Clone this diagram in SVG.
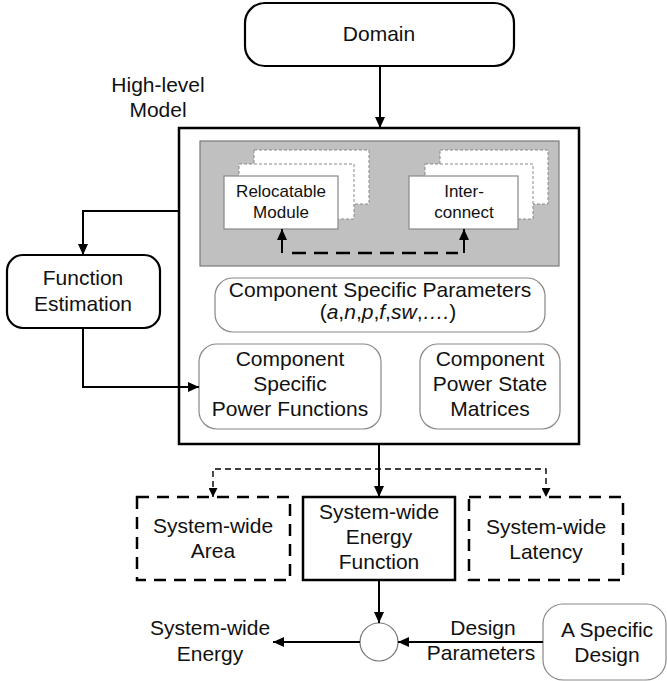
<svg xmlns="http://www.w3.org/2000/svg" width="667" height="681" viewBox="0 0 667 681">
  <style>
    text { font-family: "Liberation Sans", Arial, sans-serif; font-size: 21px; fill: #111; text-anchor: middle; }
    .small { font-size: 17px; }
    .bold-box { fill: #fff; stroke: #000; stroke-width: 2.2; }
    .soft-box { fill: #fff; stroke: #888; stroke-width: 1.2; }
    .dash-box { fill: #fff; stroke: #000; stroke-width: 2.5; stroke-dasharray: 12 8; }
    .stack { fill: #fff; stroke: #888; stroke-width: 1; stroke-dasharray: 3 2; }
    .wire { fill: none; stroke: #000; stroke-width: 2; }
    .wire-dash { fill: none; stroke: #000; stroke-width: 2.5; stroke-dasharray: 14 8; }
    .wire-thin { fill: none; stroke: #000; stroke-width: 1.4; stroke-dasharray: 6 4; }
  </style>
  <defs>
    <marker id="arrow" markerUnits="userSpaceOnUse" markerWidth="12" markerHeight="10" refX="11" refY="5" orient="auto-start-reverse">
      <path d="M0,0 L11,5 L0,10 z" fill="#000"/>
    </marker>
    <marker id="arrow-sm" markerUnits="userSpaceOnUse" markerWidth="10" markerHeight="9" refX="9" refY="4.5" orient="auto-start-reverse">
      <path d="M0,0 L9,4.5 L0,9 z" fill="#000"/>
    </marker>
  </defs>

  <!-- Domain -->
  <g id="domain">
    <rect class="bold-box" x="245" y="3" width="269" height="63" rx="20"/>
    <text x="379" y="41">Domain</text>
  </g>

  <!-- label above the model container -->
  <g id="high-level-label">
    <text x="158" y="92">High-level</text>
    <text x="158" y="117">Model</text>
  </g>

  <!-- High-level model container -->
  <g id="high-level-model">
    <rect x="179" y="128" width="400" height="316" fill="#fff" stroke="#000" stroke-width="2.5"/>
    <rect x="200" y="141" width="359" height="125" fill="#c0c0c0" stroke="#7a7a7a" stroke-width="1.2"/>
  </g>

  <g id="relocatable-module">
    <rect class="stack" x="254" y="150" width="115" height="54"/>
    <rect class="stack" x="239" y="164" width="115" height="55"/>
    <rect class="soft-box" x="224" y="176" width="114" height="53" rx="0"/>
    <text class="small" x="281" y="197">Relocatable</text>
    <text class="small" x="281" y="218">Module</text>
  </g>

  <g id="interconnect">
    <rect class="stack" x="440" y="150" width="108" height="54"/>
    <rect class="stack" x="425" y="164" width="108" height="55"/>
    <rect class="soft-box" x="409" y="176" width="109" height="53" rx="0"/>
    <text class="small" x="464" y="197">Inter-</text>
    <text class="small" x="464" y="218">connect</text>
  </g>

  <g id="component-parameters">
    <rect class="soft-box" x="215" y="278" width="330" height="54" rx="18"/>
    <text x="380" y="297">Component Specific Parameters</text>
    <text x="388" y="319">(<tspan font-style="italic">a</tspan>,<tspan font-style="italic">n</tspan>,<tspan font-style="italic">p</tspan>,<tspan font-style="italic">f</tspan>,<tspan font-style="italic">sw</tspan>,<tspan font-style="italic">….</tspan>)</text>
  </g>

  <g id="power-functions">
    <rect class="soft-box" x="199" y="344" width="182" height="85" rx="18"/>
    <text x="290" y="366">Component</text>
    <text x="290" y="391">Specific</text>
    <text x="290" y="416">Power Functions</text>
  </g>

  <g id="power-state-matrices">
    <rect class="soft-box" x="420" y="344" width="140" height="85" rx="18"/>
    <text x="490" y="366">Component</text>
    <text x="490" y="391">Power State</text>
    <text x="490" y="416">Matrices</text>
  </g>

  <g id="function-estimation">
    <rect class="bold-box" x="7" y="255" width="153" height="73" rx="16"/>
    <text x="83" y="285">Function</text>
    <text x="83" y="311">Estimation</text>
  </g>

  <g id="system-area">
    <rect class="dash-box" x="137" y="497" width="153" height="83"/>
    <text x="213" y="533">System-wide</text>
    <text x="213" y="558">Area</text>
  </g>

  <g id="system-energy-function">
    <rect x="303" y="497" width="152" height="83" fill="#fff" stroke="#000" stroke-width="2.5"/>
    <text x="379" y="519">System-wide</text>
    <text x="379" y="544">Energy</text>
    <text x="379" y="569">Function</text>
  </g>

  <g id="system-latency">
    <rect class="dash-box" x="469" y="497" width="154" height="83"/>
    <text x="546" y="534">System-wide</text>
    <text x="546" y="559">Latency</text>
  </g>

  <g id="combiner">
    <circle cx="379" cy="642" r="19" fill="#fff" stroke="#777" stroke-width="1.2"/>
  </g>

  <g id="specific-design">
    <rect class="soft-box" x="543" y="604" width="123" height="76" rx="20"/>
    <text x="607" y="637">A Specific</text>
    <text x="607" y="662">Design</text>
  </g>

  <g id="system-energy">
    <text x="210" y="635">System-wide</text>
    <text x="210" y="661">Energy</text>
  </g>

  <g id="design-parameters-label">
    <text x="483" y="635">Design</text>
    <text x="481" y="660">Parameters</text>
  </g>

  <!-- connectors -->
  <g id="connectors">
    <path class="wire" d="M380,66 V128" marker-end="url(#arrow)"/>
    <path class="wire" d="M179,211 H83 V255" marker-end="url(#arrow)"/>
    <path class="wire" d="M83,328 V387 H199" marker-end="url(#arrow)"/>
    <path class="wire" d="M282,253 V229" marker-end="url(#arrow)"/>
    <path class="wire" d="M464,253 V229" marker-end="url(#arrow)"/>
    <path class="wire-dash" d="M292,253 H458"/>
    <path class="wire" d="M379,444 V497" marker-end="url(#arrow)"/>
    <path class="wire-thin" d="M213,497 V469 H546 V497" marker-start="url(#arrow-sm)" marker-end="url(#arrow-sm)"/>
    <path class="wire" d="M379,580 V623" marker-end="url(#arrow)"/>
    <path class="wire" d="M360,642 H273" marker-end="url(#arrow)"/>
    <path class="wire" d="M543,642 H398" marker-end="url(#arrow)"/>
  </g>
</svg>
